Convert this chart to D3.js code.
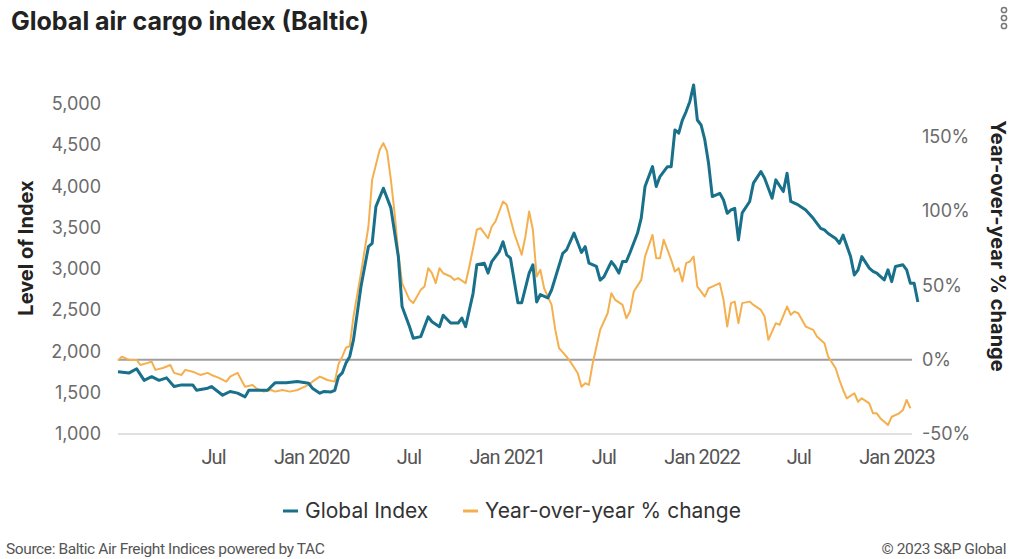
<!DOCTYPE html>
<html>
<head>
<meta charset="utf-8">
<script src="https://cdn.jsdelivr.net/npm/d3@7"></script>
<style>
  body { margin: 0; background: #fff; }
  svg { display: block; }
  .tick-label { font-family: "Inter", "Noto Sans", sans-serif; font-size: 18px; fill: #6b6b6b; }
  .x-label { font-family: "Roboto", "Liberation Sans", sans-serif; font-size: 20px; letter-spacing: -0.9px; fill: #555; }
  .axis-title { font-family: "Inter", "Noto Sans", sans-serif; font-size: 20px; font-weight: 700; fill: #222; }
  .legend-text { font-family: "Inter", "Noto Sans", sans-serif; font-size: 21px; fill: #333; }
  .footer { font-family: "Roboto", "Liberation Sans", sans-serif; font-size: 15.5px; letter-spacing: -0.4px; fill: #555; }
</style>
</head>
<body>
<div id="chart"></div>
<script>
// Weekly series, week 0 = first week of Jan 2019
const seriesStart = new Date(2019, 0, 4);

// Global Index: [week, level]
const indexPoints = [
  [0, 1755], [3, 1740], [5, 1790], [7, 1650], [9, 1695], [11, 1650], [13, 1680], [15, 1575],
  [17, 1595], [20, 1595], [21, 1530], [24, 1555], [25, 1575], [28, 1470], [30, 1515], [32, 1495],
  [34, 1450], [35, 1530], [37, 1530], [40, 1530], [42, 1620], [45, 1620], [48, 1635], [51, 1615],
  [52, 1555], [54, 1495], [55, 1515], [57, 1510], [58, 1530], [59, 1695], [60, 1740], [61, 1860],
  [62, 1940], [63, 2140], [65, 2785], [67, 3270], [68, 3310], [69, 3755], [71, 3978], [73, 3740],
  [75, 3150], [76, 2545], [78, 2300], [79, 2160], [81, 2180], [83, 2420], [84, 2360], [86, 2300],
  [87, 2440], [89, 2345], [91, 2345], [92, 2405], [93, 2300], [95, 2705], [96, 3050], [98, 3070],
  [99, 2950], [100, 3090], [102, 3210], [103, 3330], [104, 3170], [105, 3130], [107, 2590], [108, 2590],
  [110, 2950], [111, 3050], [112, 2600], [113, 2690], [115, 2650], [116, 2745], [119, 3190], [120, 3230],
  [122, 3435], [124, 3200], [125, 3270], [126, 3070], [128, 3030], [129, 2865], [130, 2905], [132, 3090],
  [133, 3030], [134, 2950], [135, 3090], [136, 3090], [137, 3200], [139, 3435], [140, 3620], [141, 4000],
  [143, 4240], [144, 4000], [145, 4120], [147, 4240], [148, 4240], [149, 4685], [150, 4645], [151, 4805],
  [152, 4907], [153, 5030], [154, 5230], [155, 4805], [156, 4745], [157, 4564], [158, 4280], [159, 3877],
  [161, 3917], [162, 3836], [163, 3675], [164, 3715], [165, 3735], [166, 3352], [167, 3680], [169, 3818],
  [170, 4040], [172, 4180], [173, 4100], [175, 3857], [176, 4080], [178, 3938], [179, 4160], [180, 3818],
  [181, 3797], [182, 3776], [184, 3715], [186, 3614], [188, 3493], [189, 3473], [190, 3430], [192, 3370],
  [193, 3310], [194, 3410], [196, 3150], [197, 2927], [198, 2990], [199, 3150], [201, 3010], [202, 2970],
  [203, 2950], [205, 2867], [206, 2990], [207, 2846], [208, 3030], [210, 3050], [211, 2990], [212, 2826],
  [213, 2826], [214, 2600]
];

// Year-over-year % change: [week, percent]
const yoyPoints = [
  [0, -0.7], [1, 2], [3, -0.2], [5, -0.2], [6, -3.6], [8, -2.2], [9, -1.3], [10, -6.9],
  [12, -5.6], [14, -3.6], [15, -8.9], [17, -10.3], [18, -6.9], [20, -8.1], [22, -10.3], [24, -8.9],
  [25, -10.3], [27, -12.3], [29, -14.8], [30, -11.4], [32, -8.9], [33, -13.7], [34, -18.2], [36, -17],
  [37, -19.3], [39, -21.5], [41, -20.4], [42, -21.5], [44, -20.4], [46, -21.5], [48, -20.4], [50, -18.2],
  [51, -17], [52, -14.8], [54, -11.4], [55, -12.5], [56, -13.7], [58, -14.8], [59, -3], [60, 2],
  [61, 8], [62, 9], [63, 28.9], [65, 58.1], [67, 89.5], [68, 121], [70, 141], [71, 145.6],
  [72, 140], [73, 121], [74, 98.5], [75, 71.6], [76, 51.4], [78, 40.2], [79, 38], [81, 46.9],
  [82, 49.1], [83, 61.5], [84, 58.1], [85, 51.4], [86, 61.5], [87, 58.1], [89, 55.9], [90, 53.6],
  [91, 54.8], [93, 51.4], [94, 62.6], [96, 87.3], [97, 88.4], [99, 81.6], [100, 89.5], [101, 92.9],
  [103, 106.3], [104, 104.1], [106, 85.1], [108, 70.5], [109, 82.8], [110, 99.6], [111, 87.3], [112, 55.9],
  [113, 60.4], [114, 48], [116, 36.8], [117, 20], [118, 7.7], [120, 2], [121, -1.3], [123, -9.2],
  [124, -18.2], [125, -15.9], [126, -17], [127, -2.5], [128, 8.7], [129, 20], [131, 31.2], [132, 44.7],
  [133, 40.2], [135, 36.8], [136, 27.8], [137, 32.3], [138, 45.8], [140, 53.6], [141, 69.3], [143, 83.9],
  [144, 68.2], [145, 68.2], [146, 80.6], [148, 67.1], [149, 59.2], [150, 61.5], [151, 52.5], [152, 64.9],
  [153, 66], [154, 69.3], [155, 49.1], [157, 42.4], [158, 48], [159, 49.1], [161, 51.4], [162, 40.2],
  [163, 22.2], [164, 38], [165, 39], [166, 24.5], [167, 38], [169, 39], [170, 36.8], [172, 33.4],
  [173, 29], [174, 13.3], [176, 24.5], [177, 23.4], [179, 35.7], [180, 30.1], [181, 32.3], [182, 31.2],
  [184, 22.2], [186, 20], [187, 15.5], [189, 11], [190, 2], [192, -5.8], [193, -13.7], [194, -20.4],
  [195, -26], [197, -22.6], [198, -28.3], [199, -26], [201, -29.4], [202, -36.1], [203, -36.1], [204, -39.5],
  [206, -44], [207, -38.4], [209, -36.1], [210, -33.9], [211, -27.1], [212, -32.7]
];

const leftTicks = [1000, 1500, 2000, 2500, 3000, 3500, 4000, 4500, 5000];
const rightTicks = [-50, 0, 50, 100, 150];
const xTickDates = ["2019-07-01", "2020-01-01", "2020-07-01", "2021-01-01", "2021-07-01", "2022-01-01", "2022-07-01", "2023-01-01"];

const blue = "#19708a";
const orange = "#f4b04f";

const W = 1013, H = 559;
const margin = { top: 80, right: 101, bottom: 125, left: 118 };
const width = W - margin.left - margin.right;
const height = H - margin.top - margin.bottom;

const weekDate = w => d3.timeDay.offset(seriesStart, w * 7);

const svgRoot = d3.select("#chart").append("svg")
  .attr("width", W)
  .attr("height", H);

const svg = svgRoot.append("g")
  .attr("transform", `translate(${margin.left}, ${margin.top})`);

const xScale = d3.scaleTime()
  .domain([seriesStart, weekDate(212.5)])
  .range([0, width]);

const yLeft = d3.scaleLinear().domain([1000, 5290]).range([height, 0]);
const yRight = d3.scaleLinear().domain([-50, 188]).range([height, 0]);

// Baseline and zero line
svg.append("line")
  .attr("x1", 0).attr("x2", width)
  .attr("y1", yLeft(1000)).attr("y2", yLeft(1000))
  .attr("stroke", "#e0e0e0").attr("stroke-width", 2);

svg.append("line")
  .attr("x1", 0).attr("x2", width)
  .attr("y1", yRight(0)).attr("y2", yRight(0))
  .attr("stroke", "#9e9e9e").attr("stroke-width", 2);

// Left axis
const leftAxis = svg.append("g")
  .call(d3.axisLeft(yLeft).tickValues(leftTicks).tickFormat(d3.format(",")).tickSize(0).tickPadding(17));
leftAxis.select(".domain").remove();
leftAxis.selectAll("text").attr("class", "tick-label");

// Right axis
const rightAxis = svg.append("g")
  .attr("transform", `translate(${width}, 0)`)
  .call(d3.axisRight(yRight).tickValues(rightTicks).tickFormat(d => d + "%").tickSize(0).tickPadding(10));
rightAxis.select(".domain").remove();
rightAxis.selectAll("text").attr("class", "tick-label");

// X axis
const xAxis = svg.append("g")
  .attr("transform", `translate(0, ${height})`)
  .call(d3.axisBottom(xScale)
    .tickValues(xTickDates.map(d => d3.timeParse("%Y-%m-%d")(d)))
    .tickFormat(d => d.getMonth() === 0 ? d3.timeFormat("Jan %Y")(d) : d3.timeFormat("%b")(d))
    .tickSize(0).tickPadding(16));
xAxis.select(".domain").remove();
xAxis.selectAll("text").attr("class", "x-label");

// Lines
const yoyLine = d3.line()
  .x(d => xScale(weekDate(d[0])))
  .y(d => yRight(d[1]));

const indexLine = d3.line()
  .x(d => xScale(weekDate(d[0])))
  .y(d => yLeft(d[1]));

svg.append("path")
  .datum(yoyPoints)
  .attr("fill", "none")
  .attr("stroke", orange)
  .attr("stroke-width", 2)
  .attr("stroke-linejoin", "round")
  .attr("d", yoyLine);

svg.append("path")
  .datum(indexPoints)
  .attr("fill", "none")
  .attr("stroke", blue)
  .attr("stroke-width", 3)
  .attr("stroke-linejoin", "round")
  .attr("d", indexLine);

// Axis titles
svgRoot.append("text")
  .attr("class", "axis-title")
  .attr("transform", "translate(33, 248) rotate(-90)")
  .attr("text-anchor", "middle")
  .text("Level of Index");

svgRoot.append("text")
  .attr("class", "axis-title")
  .attr("transform", "translate(991, 246) rotate(90)")
  .attr("text-anchor", "middle")
  .text("Year-over-year % change");

// Title
svgRoot.append("text")
  .attr("x", 11).attr("y", 30)
  .style("font-family", "Inter, 'Noto Sans', sans-serif")
  .style("font-size", "25px")
  .style("font-weight", "700")
  .style("fill", "#222")
  .text("Global air cargo index (Baltic)");

// Menu dots
svgRoot.selectAll(".menu-dot")
  .data([10, 18, 26])
  .enter().append("circle")
  .attr("cx", 1004).attr("cy", d => d).attr("r", 2.6)
  .attr("fill", "none").attr("stroke", "#777").attr("stroke-width", 1.5);

// Legend
const legendItems = [
  { label: "Global Index", color: blue, x: 283 },
  { label: "Year-over-year % change", color: orange, x: 463 }
];
const legend = svgRoot.selectAll(".legend-item")
  .data(legendItems)
  .enter().append("g")
  .attr("transform", d => `translate(${d.x}, 511)`);
legend.append("line")
  .attr("x1", 0).attr("x2", 15).attr("y1", 0).attr("y2", 0)
  .attr("stroke", d => d.color).attr("stroke-width", 3);
legend.append("text")
  .attr("class", "legend-text")
  .attr("x", 22).attr("y", 7)
  .text(d => d.label);

// Footer
svgRoot.append("text")
  .attr("class", "footer")
  .attr("x", 6).attr("y", 554)
  .text("Source: Baltic Air Freight Indices powered by TAC");

svgRoot.append("text")
  .attr("class", "footer")
  .attr("x", 1006).attr("y", 554)
  .attr("text-anchor", "end")
  .text("\u00A9 2023 S&P Global");
</script>
</body>
</html>
